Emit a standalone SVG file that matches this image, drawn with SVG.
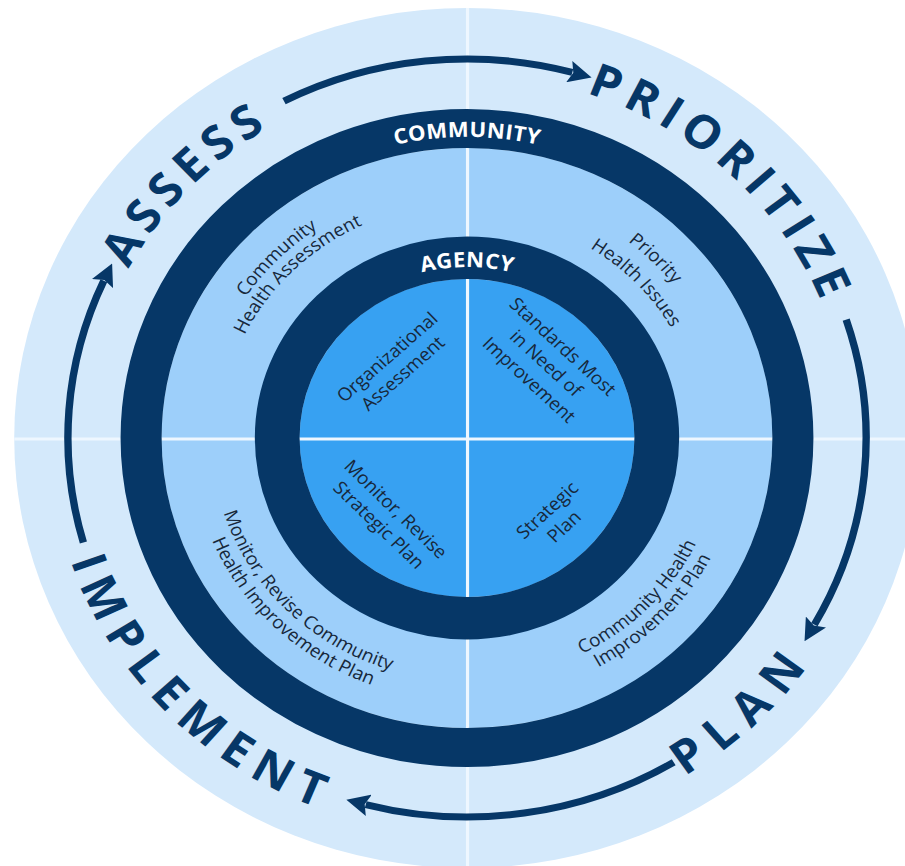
<svg xmlns="http://www.w3.org/2000/svg" width="905" height="866" viewBox="0 0 905 866">
<defs>
<style>
.big{font-family:"Open Sans","DejaVu Sans",sans-serif;font-weight:700;font-size:46px;fill:#063767}
.ring{font-family:"Open Sans","DejaVu Sans",sans-serif;font-weight:700;font-size:21px;fill:#ffffff;letter-spacing:0.3px}
.lbl{font-family:"Open Sans","DejaVu Sans",sans-serif;font-size:18px;fill:#17283b}
.arrow{fill:none;stroke:#063767;stroke-width:7}
.div{stroke:#eef7ff;stroke-width:3}
.dark{fill:none;stroke:#063767}
</style>
<marker id="ah" viewBox="0 0 22 22" refX="3" refY="11" markerWidth="22" markerHeight="22" markerUnits="userSpaceOnUse" orient="auto"><path d="M0,0 L22,11 L0,22 L4,11 z" fill="#063767"/></marker>
<path id="pAssess" d="M -348.2 102.5 A 363 363 0 0 1 85.3 -352.8"/>
<path id="pPrior" d="M -103.1 -348.0 A 363 363 0 0 1 353.0 84.7"/>
<path id="pImpl" d="M -381.2 -107.2 A 396 396 0 0 0 97.8 383.7"/>
<path id="pPlan" d="M -109.8 380.5 A 396 396 0 0 0 384.4 -95.1"/>
<path id="pComm" d="M -260.7 -150.5 A 301 301 0 0 1 260.7 -150.5"/>
<path id="pAgency" d="M -148.1 -85.5 A 171 171 0 0 1 148.1 -85.5"/>
<path id="pA1" d="M -218.9 126.9 A 253 253 0 0 1 126.1 -219.3"/>
<path id="pA2" d="M -204.5 115.7 A 235 235 0 0 1 119.3 -202.5"/>
<path id="pB1" d="M -124.9 -215.4 A 249 249 0 0 1 215.9 124.1"/>
<path id="pB2" d="M -108.1 -195.0 A 223 223 0 0 1 191.2 114.8"/>
<path id="pC1" d="M -211.1 -120.4 A 243 243 0 0 0 122.6 209.8"/>
<path id="pC2" d="M -230.9 -125.9 A 263 263 0 0 0 137.0 224.5"/>
<path id="pD1" d="M -119.2 210.6 A 242 242 0 0 0 208.5 -122.8"/>
<path id="pD2" d="M -128.1 227.4 A 261 261 0 0 0 224.6 -132.8"/>
<path id="pE1" d="M 14.7 -156.3 L 158.7 -17.5"/>
<path id="pE2" d="M -1.3 -139.7 L 142.7 -0.9"/>
<path id="pE3" d="M -17.3 -123.1 L 126.7 15.7"/>
<path id="pF1" d="M -145.2 -8.6 L 2.0 -144.0"/>
<path id="pF2" d="M -130.3 7.6 L 16.9 -127.8"/>
<path id="pG1" d="M -142.3 4.4 L -1.7 146.6"/>
<path id="pG2" d="M -158.4 20.3 L -17.8 162.5"/>
<path id="pH1" d="M 8.6 146.1 L 152.4 7.1"/>
<path id="pH2" d="M 24.6 162.6 L 168.4 23.6"/>
</defs>
<g transform="translate(467 438) scale(1.053 1)">
  <g id="background">
    <circle r="430" fill="#d4e9fb"/>
    <circle r="290" fill="#9dcffa"/>
    <circle r="159" fill="#37a1f2"/>
    <line class="div" x1="-430" y1="1" x2="430" y2="1"/>
    <line class="div" x1="0.5" y1="-430" x2="0.5" y2="430"/>
  </g>
  <g id="community-ring">
    <circle class="dark" r="309.5" stroke-width="39"/>
    <text class="ring"><textPath href="#pComm" startOffset="50%" text-anchor="middle">COMMUNITY</textPath></text>
  </g>
  <g id="agency-ring">
    <circle class="dark" r="180.25" stroke-width="42.5"/>
    <text class="ring"><textPath href="#pAgency" startOffset="50%" text-anchor="middle">AGENCY</textPath></text>
  </g>
  <g id="connectors">
    <path class="arrow" marker-end="url(#ah)" d="M -173.8 -336.8 A 379 379 0 0 1 100.0 -365.6"/>
    <path class="arrow" marker-end="url(#ah)" d="M 360.1 -118.4 A 379 379 0 0 1 329.9 186.6"/>
    <path class="arrow" marker-end="url(#ah)" d="M 196.3 324.2 A 379 379 0 0 1 -96.2 366.6"/>
    <path class="arrow" marker-end="url(#ah)" d="M -364.3 104.5 A 379 379 0 0 1 -344.9 -157.2"/>
  </g>
  <g id="assess"><text class="big" letter-spacing="7"><textPath href="#pAssess" startOffset="50%" text-anchor="middle">ASSESS</textPath></text></g>
  <g id="prioritize"><text class="big" letter-spacing="7"><textPath href="#pPrior" startOffset="50%" text-anchor="middle">PRIORITIZE</textPath></text></g>
  <g id="implement"><text class="big" letter-spacing="10"><textPath href="#pImpl" startOffset="50%" text-anchor="middle">IMPLEMENT</textPath></text></g>
  <g id="plan"><text class="big" letter-spacing="12"><textPath href="#pPlan" startOffset="50%" text-anchor="middle">PLAN</textPath></text></g>
  <g id="community-health-assessment">
    <text class="lbl"><textPath href="#pA1" startOffset="50%" text-anchor="middle">Community</textPath></text>
    <text class="lbl"><textPath href="#pA2" startOffset="50%" text-anchor="middle">Health Assessment</textPath></text>
  </g>
  <g id="priority-health-issues">
    <text class="lbl"><textPath href="#pB1" startOffset="50%" text-anchor="middle">Priority</textPath></text>
    <text class="lbl"><textPath href="#pB2" startOffset="50%" text-anchor="middle">Health Issues</textPath></text>
  </g>
  <g id="monitor-revise-chip">
    <text class="lbl"><textPath href="#pC1" startOffset="50%" text-anchor="middle">Monitor, Revise Community</textPath></text>
    <text class="lbl"><textPath href="#pC2" startOffset="50%" text-anchor="middle">Health Improvement Plan</textPath></text>
  </g>
  <g id="community-health-improvement-plan">
    <text class="lbl"><textPath href="#pD1" startOffset="50%" text-anchor="middle">Community Health</textPath></text>
    <text class="lbl"><textPath href="#pD2" startOffset="50%" text-anchor="middle">Improvement Plan</textPath></text>
  </g>
  <g id="standards">
    <text class="lbl"><textPath href="#pE1" startOffset="50%" text-anchor="middle">Standards Most</textPath></text>
    <text class="lbl"><textPath href="#pE2" startOffset="50%" text-anchor="middle">in Need of</textPath></text>
    <text class="lbl"><textPath href="#pE3" startOffset="50%" text-anchor="middle">Improvement</textPath></text>
  </g>
  <g id="organizational-assessment">
    <text class="lbl"><textPath href="#pF1" startOffset="50%" text-anchor="middle">Organizational</textPath></text>
    <text class="lbl"><textPath href="#pF2" startOffset="50%" text-anchor="middle">Assessment</textPath></text>
  </g>
  <g id="monitor-revise-strategic-plan">
    <text class="lbl"><textPath href="#pG1" startOffset="50%" text-anchor="middle">Monitor, Revise</textPath></text>
    <text class="lbl"><textPath href="#pG2" startOffset="50%" text-anchor="middle">Strategic Plan</textPath></text>
  </g>
  <g id="strategic-plan">
    <text class="lbl"><textPath href="#pH1" startOffset="50%" text-anchor="middle">Strategic</textPath></text>
    <text class="lbl"><textPath href="#pH2" startOffset="50%" text-anchor="middle">Plan</textPath></text>
  </g>
</g>
</svg>
